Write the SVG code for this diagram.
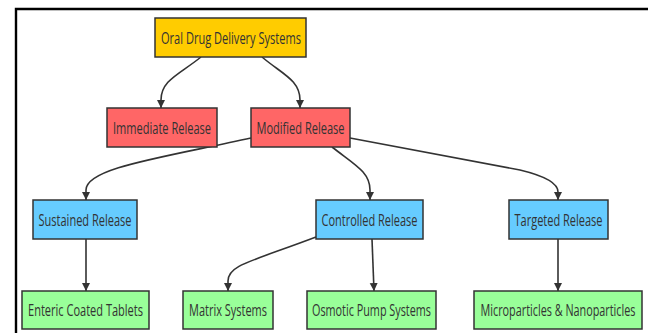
<svg xmlns="http://www.w3.org/2000/svg" width="648" height="333" viewBox="0 0 648 333">
  <defs>
    <marker id="arrow" viewBox="0 0 10 10" refX="10" refY="5" markerWidth="8" markerHeight="9" markerUnits="userSpaceOnUse" orient="auto">
      <path d="M0,0 L10,5 L0,10 Z" fill="#333333"/>
    </marker>
    <style>
      .node rect { stroke: #333333; stroke-width: 1.5; }
      .node text { font-family: "Open Sans", "Liberation Sans", sans-serif; font-size: 16.5px; fill: #333333; text-anchor: middle; }
      .root rect { fill: #FFCC00; }
      .red rect { fill: #FF6666; }
      .blue rect { fill: #66CCFF; }
      .green rect { fill: #99FF99; }
      .edges path { fill: none; stroke: #333333; stroke-width: 1.6; marker-end: url(#arrow); }
    </style>
  </defs>

  <rect width="648" height="333" fill="#ffffff"/>
  <!-- frame -->
  <path d="M16,333 L16,9 L648,9" fill="none" stroke="#000000" stroke-width="2.4"/>

  <g class="edges" id="edges">
    <path d="M201,57 C180,74 161,80 161,100 L161,108"/>
    <path d="M262,57 C282,74 300,80 300,100 L300,108"/>
    <path d="M251,138 C160,158 86,168 86,190 L86,200"/>
    <path d="M332,147 C355,165 370,172 370,190 L370,200"/>
    <path d="M350,138 L520,170 C545,176 558,183 558,192 L558,200"/>
    <path d="M86,239 L86,291"/>
    <path d="M316,237 C250,262 228,265 228,281 L228,291"/>
    <path d="M372,239 L374,291"/>
    <path d="M558,239 L558,291"/>
  </g>

  <g id="oral" class="node root">
    <rect x="155" y="18" width="151" height="39"/>
    <text x="231" y="43.5" textLength="140" lengthAdjust="spacingAndGlyphs">Oral Drug Delivery Systems</text>
  </g>
  <g id="immediate" class="node red">
    <rect x="107" y="108" width="110" height="39"/>
    <text x="162" y="133.5" textLength="98" lengthAdjust="spacingAndGlyphs">Immediate Release</text>
  </g>
  <g id="modified" class="node red">
    <rect x="251" y="108" width="99" height="39"/>
    <text x="300.5" y="133.5" textLength="88" lengthAdjust="spacingAndGlyphs">Modified Release</text>
  </g>
  <g id="sustained" class="node blue">
    <rect x="33" y="200" width="104" height="39"/>
    <text x="85" y="225.5" textLength="93" lengthAdjust="spacingAndGlyphs">Sustained Release</text>
  </g>
  <g id="controlled" class="node blue">
    <rect x="316" y="200" width="107" height="39"/>
    <text x="369.5" y="225.5" textLength="96" lengthAdjust="spacingAndGlyphs">Controlled Release</text>
  </g>
  <g id="targeted" class="node blue">
    <rect x="509" y="200" width="99" height="39"/>
    <text x="558.5" y="225.5" textLength="88" lengthAdjust="spacingAndGlyphs">Targeted Release</text>
  </g>
  <g id="enteric" class="node green">
    <rect x="22" y="291" width="127" height="38"/>
    <text x="85.5" y="316" textLength="115" lengthAdjust="spacingAndGlyphs">Enteric Coated Tablets</text>
  </g>
  <g id="matrix" class="node green">
    <rect x="183" y="291" width="90" height="38"/>
    <text x="228" y="316" textLength="78" lengthAdjust="spacingAndGlyphs">Matrix Systems</text>
  </g>
  <g id="osmotic" class="node green">
    <rect x="307" y="291" width="129" height="38"/>
    <text x="371.5" y="316" textLength="119" lengthAdjust="spacingAndGlyphs">Osmotic Pump Systems</text>
  </g>
  <g id="micro" class="node green">
    <rect x="474" y="291" width="168" height="38"/>
    <text x="558" y="316" textLength="155" lengthAdjust="spacingAndGlyphs">Microparticles &amp; Nanoparticles</text>
  </g>
</svg>
